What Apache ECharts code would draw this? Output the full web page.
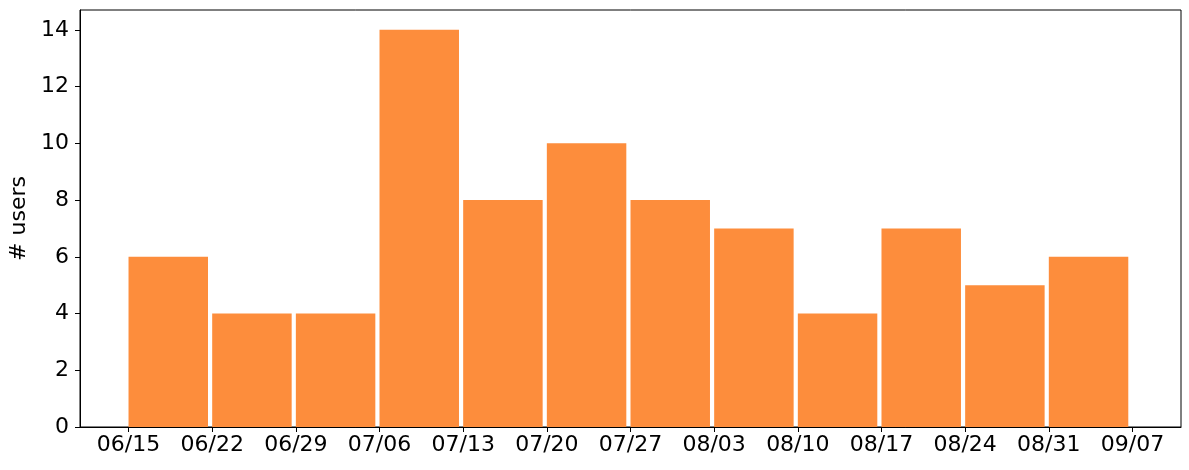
<!DOCTYPE html>
<html>
<head>
<meta charset="utf-8">
<script src="https://cdn.jsdelivr.net/npm/echarts@6/dist/echarts.min.js"></script>
<style>
html,body{margin:0;padding:0;background:#fff;}
#chart{width:1189px;height:470px;}
</style>
</head>
<body>
<div id="chart"></div>
<script>
// Weekly bins (bin start labels, last is the right edge)
const weekLabels = ['06/15','06/22','06/29','07/06','07/13','07/20','07/27','08/03','08/10','08/17','08/24','08/31','09/07'];
const userCounts = [6, 4, 4, 14, 8, 10, 8, 7, 4, 7, 5, 6];
const yTicks = [0, 2, 4, 6, 8, 10, 12, 14];
const barFraction = 0.95;

const tickPositions = weekLabels.map((_, i) => i);
const barData = userCounts.map((v, i) => [i, v]);
const fontFamily = 'DejaVu Sans';

const chart = echarts.init(document.getElementById('chart'), null, {renderer: 'canvas'});
chart.setOption({
  animation: false,
  backgroundColor: '#ffffff',
  grid: {left: 77, right: 8, top: 10, bottom: 43, show: true, borderColor: '#000', borderWidth: 1, backgroundColor: 'transparent'},
  xAxis: {
    type: 'value',
    min: -0.58,
    max: 12.58,
    axisLine: {show: true, onZero: false, lineStyle: {color: '#000', width: 1}},
    axisTick: {show: true, customValues: tickPositions, length: 5, lineStyle: {color: '#000', width: 1}},
    axisLabel: {
      show: true,
      customValues: tickPositions,
      formatter: (v) => weekLabels[Math.round(v)] || '',
      fontSize: 22, color: '#000', fontFamily: fontFamily, margin: 7
    },
    splitLine: {show: false}
  },
  yAxis: {
    type: 'value',
    min: 0,
    max: 14.7,
    name: '# users',
    nameLocation: 'middle',
    nameGap: 50,
    nameTextStyle: {fontSize: 22, color: '#000', fontFamily: fontFamily},
    axisLine: {show: true, onZero: false, lineStyle: {color: '#000', width: 1}},
    axisTick: {show: true, customValues: yTicks, length: 5, lineStyle: {color: '#000', width: 1}},
    axisLabel: {show: true, customValues: yTicks, fontSize: 22, color: '#000', fontFamily: fontFamily, margin: 11},
    splitLine: {show: false}
  },
  series: [{
    type: 'custom',
    data: barData,
    renderItem: function (params, api) {
      const x0 = api.value(0);
      const v = api.value(1);
      const p0 = api.coord([x0, 0]);
      const p1 = api.coord([x0 + barFraction, v]);
      return {
        type: 'rect',
        shape: {x: p0[0], y: p1[1], width: p1[0] - p0[0], height: p0[1] - p1[1]},
        style: {fill: '#fd8d3c'}
      };
    },
    encode: {x: 0, y: 1}
  }]
});
</script>
</body>
</html>
